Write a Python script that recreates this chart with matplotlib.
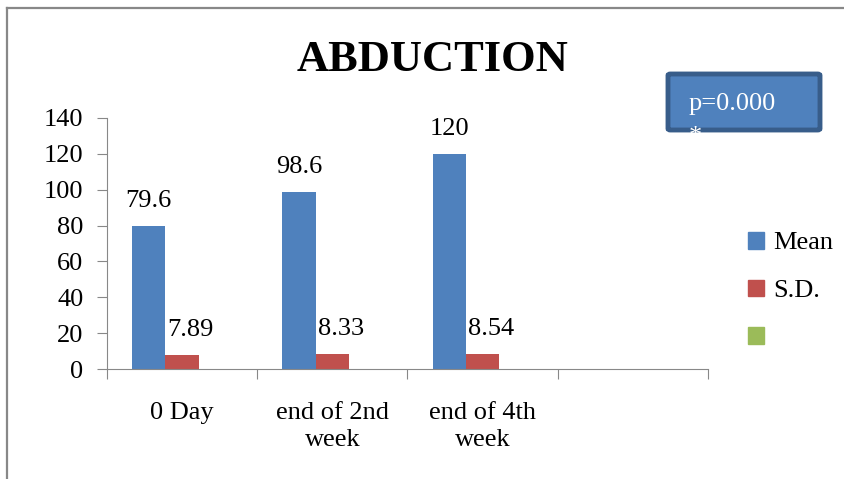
import numpy as np
import matplotlib
matplotlib.use("Agg")
import matplotlib.pyplot as plt
from matplotlib.patches import Patch, FancyBboxPatch
from matplotlib.lines import Line2D

# data
categories = ["0 Day", "end of 2nd\nweek", "end of 4th\nweek", ""]
mean_vals = [79.6, 98.6, 120, np.nan]
sd_vals = [7.89, 8.33, 8.54, np.nan]
series_names = ["Mean", "S.D.", ""]
yticks = [0, 20, 40, 60, 80, 100, 120, 140]

blue = "#4F81BD"
red = "#C0504D"
green = "#9BBB59"
grey = "#888888"

plt.rcParams["font.family"] = ["Liberation Serif", "DejaVu Serif"]

W, H = 845, 479
fig = plt.figure(figsize=(W / 100, H / 100), dpi=100)

# outer chart border
fig.add_artist(Line2D([7 / W, 7 / W], [0, 1 - 8 / H], color=grey, lw=1.6))
fig.add_artist(Line2D([7 / W, 1], [1 - 8 / H, 1 - 8 / H], color=grey, lw=1.6))

ax = fig.add_axes([107 / W, (H - 369) / H, 601 / W, 251 / H])

x = np.arange(len(categories))
bw = 0.222
ax.bar(x - bw, mean_vals, bw, color=blue)
ax.bar(x, sd_vals, bw, color=red)

fs = 19
for xi, v in zip(x, mean_vals):
    if not np.isnan(v):
        ax.annotate(f"{v:g}", (xi - bw, v), xytext=(0, 10), textcoords="offset points",
                    ha="center", va="bottom", fontsize=fs)
for xi, v in zip(x, sd_vals):
    if not np.isnan(v):
        ax.annotate(f"{v:g}", (xi, v), xytext=(6, 10), textcoords="offset points",
                    ha="center", va="bottom", fontsize=fs)

ax.set_xlim(-0.5, len(categories) - 0.5)
ax.set_ylim(0, 140)
ax.set_yticks(yticks)
ax.tick_params(axis="y", labelsize=fs, length=7, color=grey, pad=10)

ax.set_xticks(np.arange(len(categories) + 1) - 0.5)
ax.set_xticklabels([])
ax.tick_params(axis="x", which="major", length=7, color=grey)
ax.set_xticks(x, minor=True)
ax.set_xticklabels(categories, minor=True, fontsize=fs, linespacing=1.3)
ax.tick_params(axis="x", which="minor", length=0, pad=24)

for s in ["top", "right"]:
    ax.spines[s].set_visible(False)
ax.spines["left"].set_color(grey)
ax.spines["bottom"].set_color(grey)

fig.text(433 / W, 1 - 60 / H, "ABDUCTION", ha="center", va="center",
         fontsize=32, fontweight="bold")

# p-value box
box = FancyBboxPatch((668 / W, 1 - 130 / H), 152 / W, 56 / H,
                     boxstyle="round,pad=0,rounding_size=0.003",
                     transform=fig.transFigure, facecolor=blue,
                     edgecolor="#385D8A", lw=3.5)
fig.add_artist(box)
fig.text(689 / W, 1 - 104 / H, "p=0.000", color="white", fontsize=fs,
         ha="left", va="center")
fig.text(689 / W, 1 - 137 / H, "*", color="white", fontsize=fs,
         ha="left", va="center")

handles = [Patch(color=blue), Patch(color=red), Patch(color=green)]
fig.legend(handles, series_names, loc="upper left",
           bbox_to_anchor=(724 / W, 1 - 208 / H), frameon=False,
           fontsize=fs, handlelength=0.6, handleheight=0.6,
           handletextpad=0.35, labelspacing=0.95)

fig.savefig("out.png", dpi=100)
